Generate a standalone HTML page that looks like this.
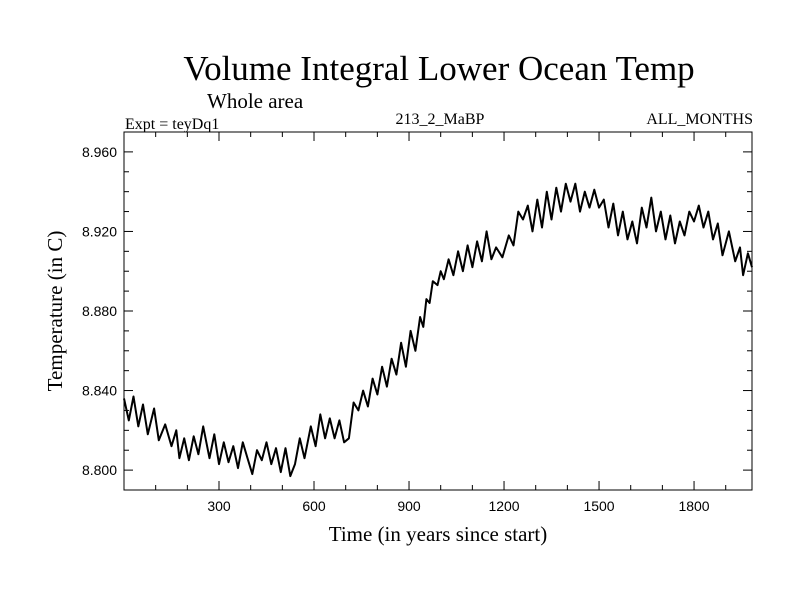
<!DOCTYPE html>
<html><head><meta charset="utf-8"><style>
body{margin:0;background:#fff;}
svg text{font-family:"Liberation Serif",serif;fill:#000;}
svg text.tick{font-family:"Liberation Sans",sans-serif;}
</style></head><body>
<svg id="chart" width="800" height="600" xmlns="http://www.w3.org/2000/svg">
<rect width="800" height="600" fill="#fff"/>
<text x="439" y="80" font-size="35" text-anchor="middle">Volume Integral Lower Ocean Temp</text>
<text x="207" y="108" font-size="21">Whole area</text>
<text x="125" y="129" font-size="16">Expt = teyDq1</text>
<text x="440" y="124" font-size="16" text-anchor="middle">213_2_MaBP</text>
<text x="753" y="124" font-size="16" text-anchor="end">ALL_MONTHS</text>
<text x="438" y="541" font-size="21" text-anchor="middle">Time (in years since start)</text>
<text transform="translate(62,311) rotate(-90)" font-size="21" text-anchor="middle">Temperature (in C)</text>
<g id="axes"></g>
<path id="series" fill="none" stroke="#000" stroke-width="2" stroke-linejoin="round"/>
<rect x="124" y="132" width="628" height="358" fill="none" stroke="#000" stroke-width="1"/>
</svg>
<script>
const years=[0,15,30,45,60,75,95,110,130,150,165,175,190,205,220,235,250,270,285,300,315,330,345,360,375,390,405,420,435,450,465,480,495,510,525,540,555,570,590,605,620,635,650,665,680,695,710,725,740,755,770,785,800,815,830,845,860,875,890,905,920,935,945,955,965,975,990,1000,1010,1025,1040,1055,1070,1085,1100,1115,1130,1145,1160,1175,1195,1215,1230,1245,1260,1275,1290,1305,1320,1335,1350,1365,1380,1395,1410,1425,1440,1455,1470,1485,1500,1515,1530,1545,1560,1575,1590,1605,1620,1635,1650,1665,1680,1695,1710,1725,1740,1755,1770,1785,1800,1815,1830,1845,1860,1875,1890,1910,1930,1945,1955,1970,1983];
const temps=[8.836,8.825,8.837,8.822,8.833,8.818,8.831,8.815,8.823,8.812,8.820,8.806,8.816,8.805,8.817,8.808,8.822,8.806,8.818,8.803,8.814,8.804,8.812,8.801,8.814,8.806,8.798,8.810,8.805,8.814,8.803,8.811,8.799,8.811,8.797,8.803,8.816,8.806,8.822,8.812,8.828,8.816,8.826,8.816,8.825,8.814,8.816,8.834,8.830,8.840,8.832,8.846,8.838,8.852,8.842,8.856,8.848,8.864,8.852,8.870,8.860,8.877,8.872,8.886,8.884,8.895,8.893,8.900,8.896,8.906,8.898,8.910,8.900,8.913,8.902,8.915,8.905,8.920,8.906,8.912,8.907,8.918,8.913,8.930,8.926,8.933,8.920,8.936,8.922,8.940,8.926,8.942,8.930,8.944,8.935,8.944,8.930,8.940,8.932,8.941,8.932,8.936,8.922,8.934,8.918,8.930,8.916,8.925,8.914,8.932,8.922,8.937,8.920,8.930,8.916,8.928,8.914,8.925,8.918,8.930,8.925,8.933,8.922,8.930,8.916,8.924,8.908,8.920,8.905,8.912,8.898,8.909,8.902];
const yTicks=[8.800,8.840,8.880,8.920,8.960];
const yTickLabels=["8.800","8.840","8.880","8.920","8.960"];
const xTicks=[300,600,900,1200,1500,1800];
const xTickLabels=["300","600","900","1200","1500","1800"];
const X0=124,X1=752,Y0=490,Y1=132,XMIN=0,XMAX=1983,YMIN=8.79,YMAX=8.97;
const xs=v=>X0+(v-XMIN)/(XMAX-XMIN)*(X1-X0);
const ys=v=>Y0-(v-YMIN)/(YMAX-YMIN)*(Y0-Y1);
const NS="http://www.w3.org/2000/svg";
const axes=document.getElementById('axes');
function mk(tag,attrs){const e=document.createElementNS(NS,tag);for(const k in attrs)e.setAttribute(k,attrs[k]);axes.appendChild(e);return e;}
for(let v=100;v<XMAX;v+=100){
  const major=v%300===0,len=major?9:5,x=xs(v);
  const t1=mk('line',{x1:x,x2:x,y1:Y0,y2:Y0-len,stroke:'#000'});
  
  
  const t2=mk('line',{x1:x,x2:x,y1:Y1,y2:Y1+len,stroke:'#000'});
  
  
}
for(let i=0;i<18;i++){
  const v=8.80+i*0.01;if(v>YMAX)break;
  const major=i%4===0,len=major?9:5,y=ys(v);
  const t1=mk('line',{x1:X0,x2:X0+len,y1:y,y2:y,stroke:'#000'});
  
  
  const t2=mk('line',{x1:X1,x2:X1-len,y1:y,y2:y,stroke:'#000'});
  
  
}
xTicks.forEach((v,i)=>{
  const t=mk('text',{x:xs(v),y:Y0+21,'font-size':14,'text-anchor':'middle','class':'tick'});
  
  
  t.textContent=xTickLabels[i];
});
yTicks.forEach((v,i)=>{
  const t=mk('text',{x:X0-7,y:ys(v)+5,'font-size':14,'text-anchor':'end','class':'tick'});
  
  
  t.textContent=yTickLabels[i];
});
document.getElementById('series').setAttribute('d',years.map((yr,i)=>(i?'L':'M')+xs(yr).toFixed(1)+','+ys(temps[i]).toFixed(1)).join(''));
</script>
</body></html>
